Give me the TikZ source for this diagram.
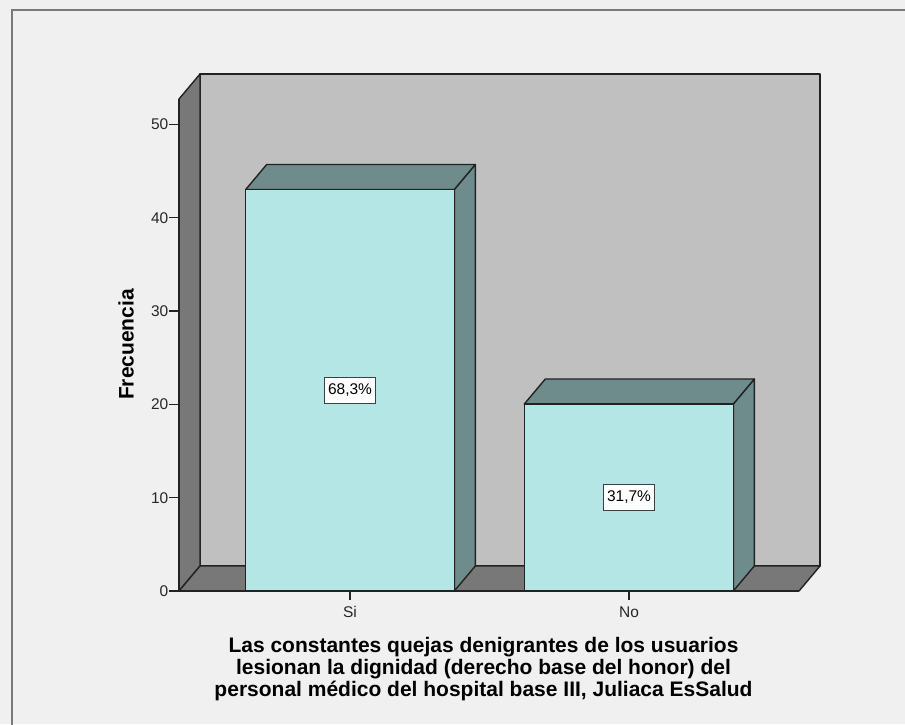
\documentclass[tikz,border=0pt]{standalone}
\usepackage{fontspec}
\setmainfont{Liberation Sans}
\definecolor{bgc}{HTML}{F0F0F0}
\definecolor{wallback}{HTML}{C0C0C0}
\definecolor{wallside}{HTML}{787878}
\definecolor{barfront}{HTML}{B4E6E6}
\definecolor{bardark}{HTML}{6E8C8C}
\definecolor{edgec}{HTML}{222222}
\definecolor{framec}{HTML}{7A7A7A}
\tikzset{
  edge/.style={draw=edgec, line width=1.4pt, line join=round},
  ticklab/.style={anchor=east, inner sep=0.5pt, font=\fontsize{15.5}{18}\selectfont, text=black!85},
  catlab/.style={inner sep=0pt, font=\fontsize{15.5}{18}\selectfont, text=black!85},
  pct/.style={draw=black!75, line width=1.2pt, fill=white, inner xsep=3.5pt, inner ysep=0pt, minimum height=26pt, font=\fontsize{15.5}{18}\selectfont},
  axislab/.style={inner sep=0pt, font=\fontsize{21}{22}\selectfont\bfseries},
}
\begin{document}
\begin{tikzpicture}[x=1pt, y=-1pt]
\useasboundingbox (0,0) rectangle (905,724);
\fill[bgc] (0,0) rectangle (905,724);
% frame
\draw[framec, line width=2pt] (12,740) -- (12,10) -- (920,10);
% back wall
\path[edge, fill=wallback] (200,74) rectangle (820,566);
% left wall
\path[edge, fill=wallside] (179,591) -- (179,99) -- (200,74) -- (200,566) -- cycle;
% floor
\path[edge, fill=wallside] (179,591) -- (200,566) -- (820,566) -- (799,591) -- cycle;
% y ticks
\foreach \v/\nm in {0/t0,10/t1,20/t2,30/t3,40/t4,50/t5}{
  \coordinate (\nm a) at (169,{591-9.333*\v});
  \coordinate (\nm b) at (179,{591-9.333*\v});
  \draw[edgec, line width=1.2pt] (\nm a) -- (\nm b);
  \node[ticklab] (\nm l) at (\nm a) {\v};
}
% bar 1 (Si): 43
\path[edge, fill=bardark] (454.3,189.5) -- (475.3,164.5) -- (475.3,566) -- (454.3,591) -- cycle;
\path[edge, fill=bardark] (245.7,189.5) -- (266.7,164.5) -- (475.3,164.5) -- (454.3,189.5) -- cycle;
\path[edge, fill=barfront] (245.7,189.5) rectangle (454.3,591);
% bar 2 (No): 20
\path[edge, fill=bardark] (733.3,404) -- (754.3,379) -- (754.3,566) -- (733.3,591) -- cycle;
\path[edge, fill=bardark] (524.3,404) -- (545.3,379) -- (754.3,379) -- (733.3,404) -- cycle;
\path[edge, fill=barfront] (524.3,404) rectangle (733.3,591);
% axis lines
\draw[edgec, line width=1.4pt] (179,99) -- (179,591) -- (799,591);
% labels in bars
\node[pct] (p1) at (350,390.5) {68,3\%};
\node[pct] (p2) at (629,497.5) {31,7\%};
% category ticks
\coordinate (c1a) at (350,591); \coordinate (c1b) at (350,600);
\coordinate (c2a) at (629,591); \coordinate (c2b) at (629,600);
\draw[edgec, line width=1.2pt] (c1a) -- (c1b);
\draw[edgec, line width=1.2pt] (c2a) -- (c2b);
\node[catlab] (si) at (350,612) {Si};
\node[catlab] (no) at (629,612) {No};
% axis titles
\node[axislab, rotate=90] (yl) at (126,344.5) {Frecuencia};
\node[axislab, align=center] (xl) at (483.5,669.5) {Las constantes quejas denigrantes de los usuarios\\lesionan la dignidad (derecho base del honor) del\\personal médico del hospital base III, Juliaca EsSalud};
\end{tikzpicture}
\end{document}
